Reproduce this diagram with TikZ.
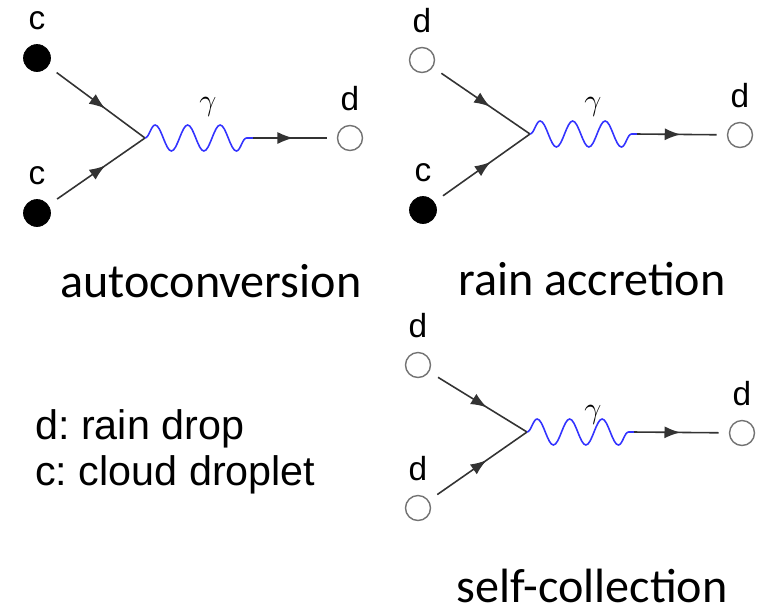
\documentclass[tikz,border=0pt]{standalone}
\usepackage{fontspec}
\newfontfamily\capfont{Carlito}
\newfontfamily\arialfont{Liberation Sans}
\usetikzlibrary{positioning}
\usetikzlibrary{arrows.meta}
\usetikzlibrary{decorations.pathmorphing,decorations.markings}
\frenchspacing

\tikzset{
  cloud/.style={circle, fill=black, draw=black, minimum size=0.54cm, inner sep=0pt, outer sep=0.22cm},
  rain/.style={circle, fill=white, draw=black!55, line width=0.8pt, minimum size=0.5cm, inner sep=0pt, outer sep=0.22cm},
  lbl/.style={font=\arialfont\fontsize{19}{19}\selectfont, inner sep=1pt, label distance=0.04cm},
  flow/.style={draw=black!80, line width=0.9pt,
    postaction={decorate, decoration={markings, mark=at position 0.55 with {\arrow{Latex[length=0.32cm, width=0.24cm]}}}}},
  photon/.style={draw=blue!80, line width=0.9pt, decorate,
    decoration={snake, amplitude=0.26cm, segment length=0.65cm}},
  caption/.style={font=\capfont\fontsize{27.4}{27.4}\selectfont, anchor=base, inner sep=0pt},
  legend/.style={font=\arialfont\fontsize{23.5}{23.5}\selectfont, anchor=base west, inner sep=0pt},
  gam/.style={font=\fontsize{19}{19}\selectfont}
}

\begin{document}
\begin{tikzpicture}[x=0.02cm, y=-0.02cm]
 \useasboundingbox (0,0) rectangle (764,613);

 %autoconversion
 \node[cloud, label={[lbl]above:c}] (ta) at (37,58) {};
 \node[cloud, label={[lbl]above:c}] (ba) at (37,213) {};
 \coordinate (va) at (145,138);
 \coordinate (wa) at (253,138);
 \node[rain, label={[lbl]above:d}] (oa) at (350,138) {};
 \node[gam] (ga) at (208,107) {$\gamma$};

 %rain accretion
 \node[rain, label={[lbl]above:d}] (tr) at (422,60) {};
 \node[cloud, label={[lbl]above:c}] (br) at (423,210) {};
 \coordinate (vr) at (530,134);
 \coordinate (wr) at (637,134);
 \node[rain, label={[lbl]above:d}] (or) at (740,135) {};
 \node[gam] (gr) at (593,107) {$\gamma$};

 %self-collection
 \node[rain, label={[lbl]above:d}] (ts) at (418,365) {};
 \node[rain, label={[lbl]above:d}] (bs) at (418,508) {};
 \coordinate (vs) at (527,432);
 \coordinate (ws) at (634,432);
 \node[rain, label={[lbl]above:d}] (os) at (742,433) {};
 \node[gam] (gs) at (593,415) {$\gamma$};

 % lines
 \foreach \n in {a, r, s} {
   \draw[flow] (t\n) -- (v\n);
   \draw[flow] (b\n) -- (v\n);
   \draw[photon] (v\n) -- (w\n);
   \draw[flow] (w\n) -- (o\n);
 }

 % texts
 \node[caption] (capa) at (211,297) {autoconversion};
 \node[caption] (capr) at (592,295) {rain accretion};
 \node[caption] (caps) at (592,602) {self-collection};
 \node[legend] (keyd) at (35,439) {d: rain drop};
 \node[legend] (keyc) at (35,485) {c: cloud droplet};

\end{tikzpicture}
\end{document}
